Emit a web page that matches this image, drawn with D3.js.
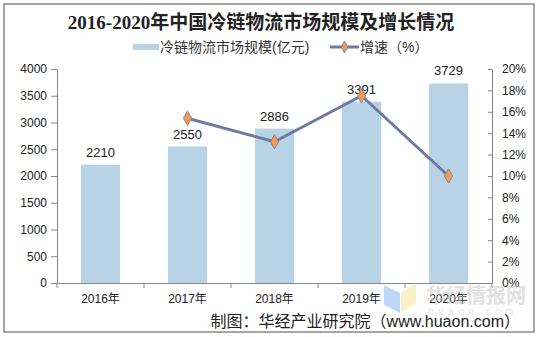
<!DOCTYPE html>
<html><head><meta charset="utf-8">
<script src="https://cdn.jsdelivr.net/npm/d3@7"></script>
<style>body{margin:0;background:#fff}svg{display:block}</style>
</head><body>
<svg id="c" width="541" height="337"></svg>
<script>
const categories = ["2016年","2017年","2018年","2019年","2020年"];
const marketSize = [2210, 2550, 2886, 3391, 3729];
const growth = [null, 15.4, 13.2, 17.5, 10.0];
const leftTicks = [0,500,1000,1500,2000,2500,3000,3500,4000];
const rightTicks = [0,2,4,6,8,10,12,14,16,18,20];
const title = "2016-2020年中国冷链物流市场规模及增长情况";
const legendLabels = ["冷链物流市场规模(亿元)", "增速（%）"];
const source = "制图：华经产业研究院（www.huaon.com）";

const svg = d3.select("#c");
const font = "'Liberation Sans', Arial, 'Noto Sans CJK SC', sans-serif";
const axisColor = "#868686";
const barColor = "#B7D3E5";
const lineColor = "#6E7AA3";
const markerColor = "#F59A4D";

svg.append("rect").attr("x",4).attr("y",4).attr("width",530).attr("height",328)
  .attr("fill","#fff").attr("stroke","#888").attr("stroke-width",1.5);

const L = 57, R = 492, T = 69, B = 283;
const x = d3.scaleBand().domain(categories).range([L,R]).paddingInner(0.55).paddingOuter(0.275);
const y = d3.scaleLinear().domain([0,4000]).range([B,T]);
const y2 = d3.scaleLinear().domain([0,20]).range([B,T]);

// title
svg.append("text").attr("x",261).attr("y",29).attr("text-anchor","middle")
  .style("font-family","'Liberation Serif','Noto Sans CJK SC',serif").style("font-weight","bold")
  .style("font-size","19px").attr("fill","#222").text(title);

// legend
const lg = svg.append("g").style("font-family",font).style("font-size","14px").attr("fill","#333");
lg.append("rect").attr("x",133).attr("y",44).attr("width",26).attr("height",6).attr("fill",barColor);
lg.append("text").attr("x",160).attr("y",52).text(legendLabels[0]).attr("fill","#333");
lg.append("line").attr("x1",330).attr("x2",359).attr("y1",47).attr("y2",47).attr("stroke",lineColor).attr("stroke-width",3);
lg.append("path").attr("d",d3.symbol(d3.symbolDiamond,40)()).attr("transform","translate(344.5,47)")
  .attr("fill",markerColor).attr("stroke",lineColor).attr("stroke-width",0.8);
lg.append("text").attr("x",360).attr("y",52).text(legendLabels[1]).attr("fill","#333");

// bars
svg.append("g").selectAll("rect").data(marketSize).join("rect")
  .attr("x",(d,i)=>x(categories[i])).attr("width",x.bandwidth())
  .attr("y",d=>y(d)).attr("height",d=>B-y(d)).attr("fill",barColor);

// bar labels
svg.append("g").selectAll("text").data(marketSize).join("text")
  .attr("x",(d,i)=>x(categories[i])+x.bandwidth()/2).attr("y",d=>y(d)-8)
  .attr("text-anchor","middle").style("font-family",font).style("font-size","13px")
  .attr("fill","#222").text(d=>d);

// axes
const ax = svg.append("g").attr("transform",`translate(${L},0)`)
  .call(d3.axisLeft(y).tickValues(leftTicks).tickSize(6).tickSizeOuter(0).tickPadding(4).tickFormat(d3.format("d")));
const ax2 = svg.append("g").attr("transform",`translate(${R},0)`)
  .call(d3.axisRight(y2).tickValues(rightTicks).tickSize(-4).tickSizeOuter(0).tickPadding(10).tickFormat(d=>d+"%"));
const axb = svg.append("g").attr("transform",`translate(0,${B})`)
  .call(d3.axisBottom(x).tickSize(0).tickPadding(11));
const bounds = d3.range(categories.length+1).map(i=>L + i*(R-L)/categories.length);
axb.selectAll(".bt").data(bounds).join("line").attr("class","bt")
  .attr("x1",d=>d).attr("x2",d=>d).attr("y1",0).attr("y2",5).attr("stroke",axisColor);
[ax,ax2,axb].forEach(g=>{
  g.selectAll(".domain").attr("stroke",axisColor);
  g.selectAll(".tick line").attr("stroke",axisColor);
  g.selectAll("text").style("font-family",font).style("font-size","12px").attr("fill","#222");
});

// watermark (logo graphic + faint text)
const wm = svg.append("g").attr("opacity",0.5);
wm.append("path").attr("d","M384,285 L400,293 L400,313 L384,305 Z").attr("fill","#7FB1F5");
wm.append("path").attr("d","M401,293 L416,283 L416,303 L401,313 Z").attr("fill","#FBE58F");
wm.append("text").attr("x",426).attr("y",303).style("font-family","'Noto Sans CJK SC',sans-serif")
  .style("font-weight","bold").style("font-size","20px").attr("fill","#c4c4c4").text("华经情报网");
wm.append("text").attr("x",428).attr("y",315).style("font-family",font)
  .style("font-size","10px").style("letter-spacing","4.5px").attr("fill","#d0d0d0").text("huaon.com");

// line
const pts = growth.map((v,i)=>({v,i})).filter(d=>d.v!==null);
const lineGen = d3.line().x(d=>x(categories[d.i])+x.bandwidth()/2).y(d=>y2(d.v));
svg.append("path").datum(pts).attr("d",lineGen).attr("fill","none")
  .attr("stroke",lineColor).attr("stroke-width",3).attr("stroke-linejoin","round");
svg.append("g").selectAll("path").data(pts).join("path")
  .attr("d",d3.symbol(d3.symbolDiamond,60)())
  .attr("transform",d=>`translate(${x(categories[d.i])+x.bandwidth()/2},${y2(d.v)})`)
  .attr("fill",markerColor).attr("stroke",lineColor).attr("stroke-width",0.8);

// source
svg.append("text").attr("x",520).attr("y",327).attr("text-anchor","end")
  .style("font-family",font).style("font-size","16px").attr("fill","#222").text(source);
</script>
</body></html>
